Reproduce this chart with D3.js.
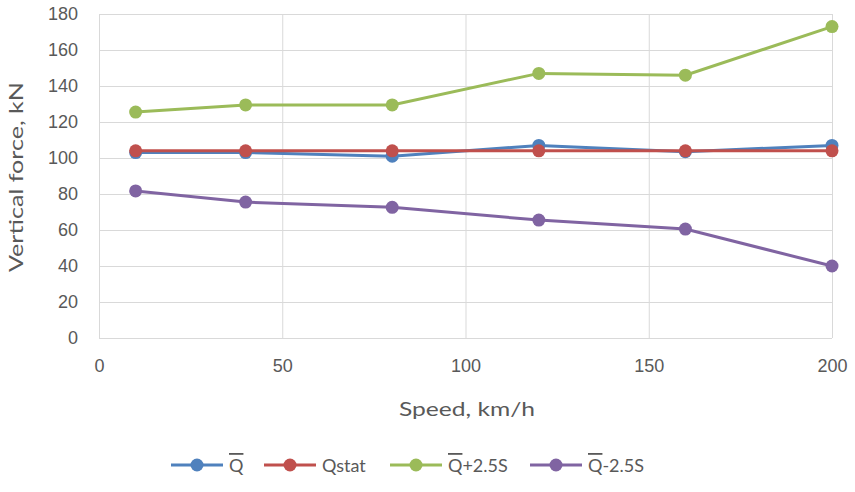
<!DOCTYPE html>
<html>
<head>
<meta charset="utf-8">
<script src="https://cdn.jsdelivr.net/npm/d3@7"></script>
<style>
  body { margin: 0; background: #fff; }
  svg { font-family: Lato, "Open Sans", sans-serif; }
</style>
</head>
<body>
<svg id="chart" width="855" height="492"></svg>
<script>
// data
const SPEEDS = [10, 40, 80, 120, 160, 200];
const Q_MEAN = [103, 103, 101, 107, 103.5, 107];
const Q_STAT = [104, 104, 104, 104, 104, 104];
const Q_PLUS = [125.5, 129.5, 129.5, 147, 146, 173];
const Q_MINUS = [81.7, 75.5, 72.6, 65.5, 60.5, 40];
// [barred part, rest]
const SERIES_NAMES = [['Q', ''], ['', 'Qstat'], ['Q', '+2.5S'], ['Q', '-2.5S']];
const COLORS = ['#4f81bd', '#c0504d', '#9bbb59', '#8064a2'];
const X_TICKS = [0, 50, 100, 150, 200];
const Y_TICKS = [0, 20, 40, 60, 80, 100, 120, 140, 160, 180];

const SVG1 = d3.select('#chart');
const LEFT = 99, RIGHT = 832, TOP = 14, BOTTOM = 338;

const X_SCALE = d3.scaleLinear().domain([0, 200]).range([LEFT, RIGHT]);
const Y_SCALE = d3.scaleLinear().domain([0, 180]).range([BOTTOM, TOP]);

// gridlines
SVG1.append('g')
    .attr('transform', `translate(0,${BOTTOM})`)
    .call(d3.axisBottom(X_SCALE).tickValues(X_TICKS).tickSize(-(BOTTOM - TOP)).tickFormat(''))
    .call(g => g.select('.domain').remove())
    .call(g => g.selectAll('line').attr('stroke', '#d9d9d9').attr('stroke-width', 1));

SVG1.append('g')
    .attr('transform', `translate(${LEFT},0)`)
    .call(d3.axisLeft(Y_SCALE).tickValues(Y_TICKS).tickSize(-(RIGHT - LEFT)).tickFormat(''))
    .call(g => g.select('.domain').remove())
    .call(g => g.selectAll('line').attr('stroke', '#d9d9d9').attr('stroke-width', 1));

// tick labels
const xAxis = SVG1.append('g')
    .attr('transform', `translate(0,${BOTTOM})`)
    .call(d3.axisBottom(X_SCALE).tickValues(X_TICKS).tickSize(0).tickPadding(21));
xAxis.select('.domain').remove();
xAxis.selectAll('text').attr('fill', '#595959').style('font-size', '18px');

const yAxis = SVG1.append('g')
    .attr('transform', `translate(${LEFT},0)`)
    .call(d3.axisLeft(Y_SCALE).tickValues(Y_TICKS).tickSize(0).tickPadding(21));
yAxis.select('.domain').remove();
yAxis.selectAll('text').attr('fill', '#595959').style('font-size', '18px');

// axis titles
SVG1.append('text')
    .attr('x', 467)
    .attr('y', 416)
    .attr('text-anchor', 'middle')
    .attr('fill', '#595959')
    .attr('textLength', 136)
    .attr('lengthAdjust', 'spacingAndGlyphs')
    .style('font-size', '20px')
    .text('Speed, km/h');

SVG1.append('text')
    .attr('transform', 'translate(23,177) rotate(-90)')
    .attr('text-anchor', 'middle')
    .attr('fill', '#595959')
    .attr('textLength', 190)
    .attr('lengthAdjust', 'spacingAndGlyphs')
    .style('font-size', '20px')
    .text('Vertical force, kN');

// series
const ALL = [Q_MEAN, Q_STAT, Q_PLUS, Q_MINUS].map((vals, k) => ({
    name: SERIES_NAMES[k],
    color: COLORS[k],
    points: SPEEDS.map((s, i) => ({ x: s, y: vals[i] }))
}));

const line = d3.line().x(d => X_SCALE(d.x)).y(d => Y_SCALE(d.y));

const seriesG = SVG1.append('g')
    .selectAll('g')
    .data(ALL)
    .join('g');

seriesG.append('path')
    .attr('d', d => line(d.points))
    .attr('fill', 'none')
    .attr('stroke', d => d.color)
    .attr('stroke-width', 3);

seriesG.selectAll('circle')
    .data(d => d.points.map(p => ({ ...p, color: d.color })))
    .join('circle')
    .attr('cx', d => X_SCALE(d.x))
    .attr('cy', d => Y_SCALE(d.y))
    .attr('r', 6.5)
    .attr('fill', d => d.color);

// legend
const LEGEND_X = [171, 264, 390, 530];
const legend = SVG1.append('g')
    .selectAll('g')
    .data(ALL)
    .join('g')
    .attr('transform', (d, i) => `translate(${LEGEND_X[i]},465)`);

legend.append('line')
    .attr('x1', 0).attr('x2', 52)
    .attr('stroke', d => d.color)
    .attr('stroke-width', 3);

legend.append('circle')
    .attr('cx', 26)
    .attr('r', 6.5)
    .attr('fill', d => d.color);

const legendText = legend.append('text')
    .attr('x', 58)
    .attr('y', 7)
    .attr('fill', '#595959')
    .style('font-size', '18px');

legendText.append('tspan')
    .style('text-decoration', 'overline')
    .text(d => d.name[0]);
legendText.append('tspan')
    .text(d => d.name[1]);
</script>
</body>
</html>
